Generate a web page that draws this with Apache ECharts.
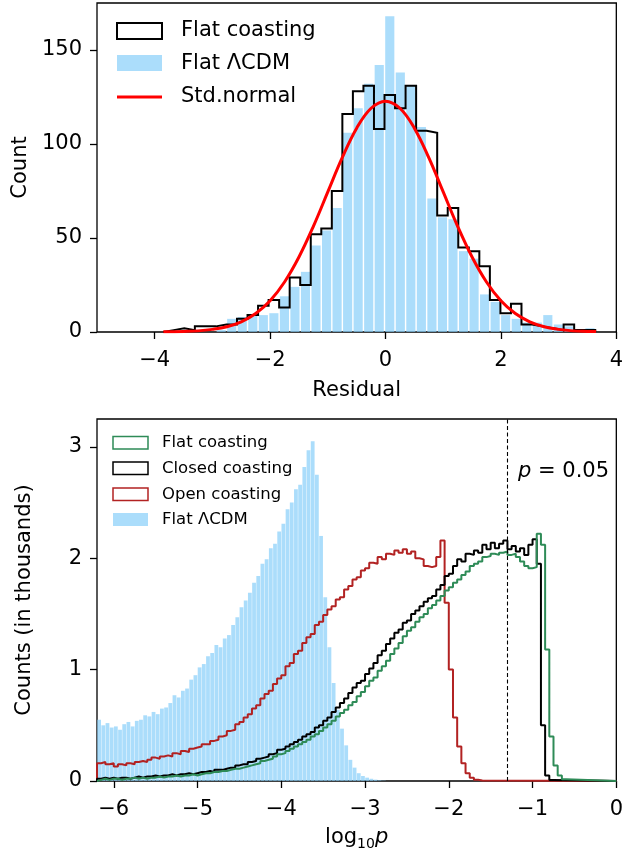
<!DOCTYPE html>
<html>
<head>
<meta charset="utf-8">
<script src="https://cdn.jsdelivr.net/npm/echarts@6/dist/echarts.min.js"></script>
<style>
  html, body { margin: 0; padding: 0; background: #fff; }
  #main { width: 626px; height: 856px; }
</style>
</head>
<body>
<div id="main"></div>
<script>
// ---- top panel: residuals ----
const resBinStart = -3.852;
const resBinWidth = 0.1826;
const resCoasting = [1,2,1,3,3,4,4,7,9,14,17,13,29,25,52,55,75,116,128,131,108,126,119,131,107,106,62,66,45,43,35,17,10,15,4,3,2,1,4,1,1];
const resLcdm = [0,0,0,0,0,1,7,8,9,9,10,19,24,32,46,54,66,106,119,132,142,168,138,131,109,71,61,60,43,39,20,16,9,7,5,5,9,4,3,1,2];
const normX = [-3.85,-3.5,-3.25,-3,-2.75,-2.5,-2.25,-2,-1.75,-1.5,-1.25,-1,-0.75,-0.5,-0.25,0,0.25,0.5,0.75,1,1.25,1.5,1.75,2,2.25,2.5,2.75,3,3.25,3.5,3.65];
const normY = [0.1,0.3,0.6,1.4,2.8,5.4,9.8,16.6,26.6,39.9,56.2,74.5,92.7,108.4,119.0,122.8,119.0,108.4,92.7,74.5,56.2,39.9,26.6,16.6,9.8,5.4,2.8,1.4,0.6,0.3,0.2];
const resTicksX = [-4,-2,0,2,4];
const resTicksY = [0,50,100,150];

// ---- bottom panel: log10 p, counts in thousands ----
const pBinStart = -6.2;
const pBinWidth = 0.05;
const pRangeEnd = 0;
const pFlatLcdm = [
  0.55,0.50,0.52,0.48,0.49,0.46,0.51,0.53,0.49,0.54,
  0.55,0.59,0.58,0.62,0.60,0.65,0.66,0.70,0.77,0.75,
  0.81,0.83,0.91,0.95,1.02,1.05,1.12,1.15,1.22,1.20,
  1.28,1.31,1.40,1.47,1.56,1.62,1.69,1.78,1.84,1.95,
  1.99,2.09,2.13,2.24,2.31,2.44,2.50,2.62,2.66,2.82,
  2.97,3.05,2.75,2.20,1.65,1.20,0.88,0.64,0.47,0.32,
  0.19,0.12,0.07,0.045,0.03,0.02,0.012,0.006,0.003
];
const pOpenCoasting = [
  0.16,0.17,0.15,0.16,0.13,0.15,0.14,0.16,0.15,0.17,
  0.18,0.17,0.19,0.21,0.20,0.22,0.23,0.22,0.25,0.24,
  0.27,0.26,0.29,0.30,0.31,0.33,0.33,0.36,0.37,0.40,
  0.41,0.45,0.46,0.51,0.53,0.57,0.60,0.65,0.68,0.74,
  0.78,0.81,0.87,0.92,0.95,1.03,1.06,1.14,1.17,1.24,
  1.29,1.32,1.40,1.43,1.49,1.54,1.57,1.63,1.65,1.72,
  1.75,1.81,1.83,1.89,1.91,1.96,1.95,2.01,1.99,2.04,
  2.03,2.07,2.05,2.08,2.04,2.06,2.00,1.99,1.93,1.92,
  1.93,2.01,2.16,1.60,1.00,0.57,0.31,0.16,0.07,0.03,
  0.012,0.005
];
const pClosedCoasting = [
  0.02,0.03,0.02,0.03,0.02,0.03,0.03,0.02,0.03,0.04,
  0.03,0.04,0.04,0.05,0.04,0.05,0.05,0.06,0.05,0.06,
  0.06,0.07,0.06,0.07,0.08,0.08,0.09,0.08,0.10,0.10,
  0.11,0.12,0.12,0.14,0.15,0.15,0.17,0.18,0.20,0.21,
  0.22,0.24,0.25,0.28,0.29,0.31,0.33,0.35,0.37,0.40,
  0.42,0.44,0.48,0.50,0.54,0.57,0.62,0.66,0.70,0.74,
  0.79,0.84,0.88,0.90,0.96,1.01,1.06,1.13,1.17,1.23,
  1.28,1.33,1.36,1.42,1.44,1.50,1.53,1.57,1.61,1.64,
  1.66,1.72,1.76,1.84,1.86,1.93,1.99,1.97,2.04,2.03,
  2.07,2.05,2.12,2.08,2.14,2.09,2.13,2.16,2.08,2.11,
  2.06,2.09,2.03,2.12,2.17,1.95,0.50,0.05,0.01
];
const pFlatCoasting = [
  0.01,0.02,0.01,0.02,0.02,0.01,0.02,0.02,0.03,0.02,
  0.03,0.02,0.03,0.03,0.04,0.03,0.04,0.04,0.05,0.04,
  0.05,0.05,0.06,0.05,0.06,0.07,0.07,0.08,0.08,0.09,
  0.09,0.10,0.11,0.11,0.12,0.13,0.14,0.15,0.16,0.18,
  0.19,0.20,0.22,0.24,0.25,0.27,0.29,0.31,0.33,0.35,
  0.37,0.40,0.42,0.45,0.48,0.51,0.54,0.58,0.61,0.64,
  0.68,0.71,0.76,0.80,0.85,0.90,0.93,0.99,1.03,1.08,
  1.14,1.19,1.24,1.30,1.35,1.38,1.43,1.47,1.50,1.55,
  1.58,1.62,1.66,1.71,1.74,1.78,1.81,1.85,1.88,1.93,
  1.95,1.97,2.01,2.02,2.04,2.03,2.05,2.06,2.03,2.04,
  2.01,1.97,1.93,1.91,1.92,2.22,2.12,1.18,0.40,0.14,
  0.05,0.015
];
const pCut = Math.log10(0.05);
const pTicksX = [-6,-5,-4,-3,-2,-1,0];
const pTicksY = [0,1,2,3];

const FONT = 'DejaVu Sans';
const BLUE = 'rgba(135,206,250,0.7)';

function binRects(start, w, counts) {
  return counts.map((c, i) => [start + i * w, start + (i + 1) * w, c]);
}

// matplotlib histtype='step' outline
function stepLine(start, w, counts, end) {
  const pts = [[start, 0]];
  counts.forEach((c, i) => {
    pts.push([start + i * w, c]);
    pts.push([start + (i + 1) * w, c]);
  });
  const last = start + counts.length * w;
  pts.push([last, 0]);
  if (end !== undefined && end > last) pts.push([end, 0]);
  return pts;
}

function barRender(gap) {
  return function (params, api) {
    const a = api.coord([api.value(0), api.value(2)]);
    const b = api.coord([api.value(1), 0]);
    return {
      type: 'rect',
      shape: { x: a[0] + gap, y: a[1], width: Math.max(b[0] - a[0] - 2 * gap, 0.3), height: b[1] - a[1] },
      style: { fill: BLUE }
    };
  };
}

const minus = v => (v < 0 ? '\u2212' + Math.abs(v) : '' + v);

function xAx(grid, min, max, ticks, name, gap) {
  return {
    gridIndex: grid, type: 'value', min: min, max: max,
    axisLine: { show: false, onZero: false },
    splitLine: { show: false },
    axisTick: { customValues: ticks, length: 7, lineStyle: { color: '#000', width: 1.3 } },
    axisLabel: { customValues: ticks, formatter: minus, color: '#000', fontFamily: FONT, fontSize: 21, margin: 18 },
    name: name, nameLocation: 'middle', nameGap: gap,
    nameTextStyle: { color: '#000', fontFamily: FONT, fontSize: 21 }
  };
}
function yAx(grid, min, max, ticks, name, gap) {
  return {
    gridIndex: grid, type: 'value', min: min, max: max,
    axisLine: { show: false, onZero: false },
    splitLine: { show: false },
    axisTick: { customValues: ticks, length: 7, lineStyle: { color: '#000', width: 1.3 } },
    axisLabel: { customValues: ticks, formatter: minus, color: '#000', fontFamily: FONT, fontSize: 21, margin: 15 },
    name: name, nameLocation: 'middle', nameGap: gap,
    nameTextStyle: { color: '#000', fontFamily: FONT, fontSize: 21 }
  };
}

const chart = echarts.init(document.getElementById('main'), null, { renderer: 'canvas' });

const legTop = [
  { type: 'rect', shape: { x: 117, y: 23, width: 45, height: 16 }, style: { fill: '#fff', stroke: '#000', lineWidth: 2 } },
  { type: 'rect', shape: { x: 117, y: 55, width: 45, height: 16 }, style: { fill: BLUE } },
  { type: 'line', shape: { x1: 117, y1: 97, x2: 162, y2: 97 }, style: { stroke: '#f00', lineWidth: 3 } },
  { type: 'text', x: 181, y: 30.5, style: { text: 'Flat coasting', font: '21px "DejaVu Sans"', fill: '#000', verticalAlign: 'middle' } },
  { type: 'text', x: 181, y: 63.5, style: { text: 'Flat \u039BCDM', font: '21px "DejaVu Sans"', fill: '#000', verticalAlign: 'middle' } },
  { type: 'text', x: 181, y: 96.7, style: { text: 'Std.normal', font: '21px "DejaVu Sans"', fill: '#000', verticalAlign: 'middle' } }
];
const legBot = [
  { type: 'rect', shape: { x: 113, y: 436.5, width: 35, height: 12.5 }, style: { fill: '#fff', stroke: '#2e8b57', lineWidth: 1.5 } },
  { type: 'rect', shape: { x: 113, y: 462, width: 35, height: 12.5 }, style: { fill: '#fff', stroke: '#000', lineWidth: 1.5 } },
  { type: 'rect', shape: { x: 113, y: 488, width: 35, height: 12.5 }, style: { fill: '#fff', stroke: '#b22222', lineWidth: 1.5 } },
  { type: 'rect', shape: { x: 113, y: 513, width: 35, height: 13 }, style: { fill: BLUE } },
  { type: 'text', x: 162, y: 442.6, style: { text: 'Flat coasting', font: '16.5px "DejaVu Sans"', fill: '#000', verticalAlign: 'middle' } },
  { type: 'text', x: 162, y: 468.3, style: { text: 'Closed coasting', font: '16.5px "DejaVu Sans"', fill: '#000', verticalAlign: 'middle' } },
  { type: 'text', x: 162, y: 494.3, style: { text: 'Open coasting', font: '16.5px "DejaVu Sans"', fill: '#000', verticalAlign: 'middle' } },
  { type: 'text', x: 162, y: 519.3, style: { text: 'Flat \u039BCDM', font: '16.5px "DejaVu Sans"', fill: '#000', verticalAlign: 'middle' } },
  {
    type: 'text', x: 518, y: 471.7,
    style: {
      text: '{i|p} = 0.05', verticalAlign: 'middle', fill: '#000',
      font: '21px "DejaVu Sans"',
      rich: { i: { fontFamily: FONT, fontSize: 21, fontStyle: 'italic' } }
    }
  }
];

chart.setOption({
  animation: false,
  backgroundColor: '#fff',
  grid: [
    { left: 97, right: 8, top: 3, height: 329, show: true, borderColor: '#000', borderWidth: 1.3, backgroundColor: 'transparent' },
    { left: 97, right: 8, top: 419, height: 362, show: true, borderColor: '#000', borderWidth: 1.3, backgroundColor: 'transparent' }
  ],
  xAxis: [
    xAx(0, -5, 4, resTicksX, 'Residual', 48),
    Object.assign(xAx(1, -6.2, 0, pTicksX, '{a|log}{b|10}{i|p}', 45), {
      nameTextStyle: {
        color: '#000', fontFamily: FONT, fontSize: 21,
        rich: {
          a: { fontFamily: FONT, fontSize: 21, lineHeight: 24 },
          b: { fontFamily: FONT, fontSize: 14, lineHeight: 14, verticalAlign: 'top', padding: [11, 0, 0, 0] },
          i: { fontFamily: FONT, fontSize: 21, lineHeight: 24, fontStyle: 'italic' }
        }
      }
    })
  ],
  yAxis: [
    yAx(0, 0, 175, resTicksY, 'Count', 62),
    yAx(1, 0, 3.25, pTicksY, 'Counts (in thousands)', 62)
  ],
  series: [
    {
      name: 'Flat \u039BCDM', type: 'custom', xAxisIndex: 0, yAxisIndex: 0,
      renderItem: barRender(0.7), encode: { x: [0, 1], y: 2 },
      data: binRects(resBinStart, resBinWidth, resLcdm), z: 1
    },
    {
      name: 'Flat coasting', type: 'line', xAxisIndex: 0, yAxisIndex: 0,
      data: stepLine(resBinStart, resBinWidth, resCoasting),
      symbol: 'none', lineStyle: { color: '#000', width: 2, join: 'miter' }, z: 2
    },
    {
      name: 'Std.normal', type: 'line', xAxisIndex: 0, yAxisIndex: 0,
      data: normX.map((x, i) => [x, normY[i]]),
      smooth: 0.4, symbol: 'none', lineStyle: { color: '#f00', width: 3 }, z: 3
    },
    {
      name: 'Flat \u039BCDM', type: 'custom', xAxisIndex: 1, yAxisIndex: 1,
      renderItem: barRender(0.2), encode: { x: [0, 1], y: 2 },
      data: binRects(pBinStart, pBinWidth, pFlatLcdm), z: 1
    },
    {
      name: 'Open coasting', type: 'line', xAxisIndex: 1, yAxisIndex: 1,
      data: stepLine(pBinStart, pBinWidth, pOpenCoasting, pRangeEnd),
      symbol: 'none', lineStyle: { color: '#b22222', width: 2 }, z: 2
    },
    {
      name: 'Closed coasting', type: 'line', xAxisIndex: 1, yAxisIndex: 1,
      data: stepLine(pBinStart, pBinWidth, pClosedCoasting, pRangeEnd),
      symbol: 'none', lineStyle: { color: '#000', width: 2 }, z: 3
    },
    {
      name: 'Flat coasting', type: 'line', xAxisIndex: 1, yAxisIndex: 1,
      data: stepLine(pBinStart, pBinWidth, pFlatCoasting, pRangeEnd),
      symbol: 'none', lineStyle: { color: '#2e8b57', width: 2 }, z: 4,
      markLine: {
        silent: true, symbol: ['none', 'none'], label: { show: false },
        lineStyle: { color: '#000', type: [4, 2.5], width: 1.1 },
        data: [{ xAxis: pCut }]
      }
    }
  ],
  graphic: legTop.concat(legBot)
});
</script>
</body>
</html>
